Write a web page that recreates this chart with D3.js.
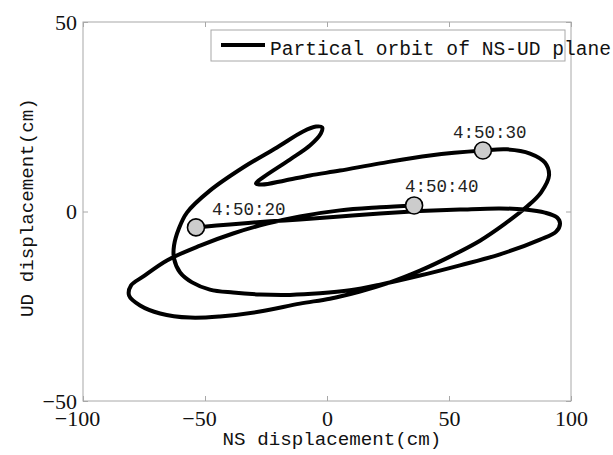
<!DOCTYPE html>
<html>
<head>
<meta charset="utf-8">
<script src="https://cdn.jsdelivr.net/npm/d3@7"></script>
<style>
  body { margin: 0; background: #fff; }
  svg { display: block; }
</style>
</head>
<body>
<div id="chart"></div>
<script>
// Particle orbit, in time order (4:50:20 -> 4:50:40)
const nsDisp = [-53.7, -39.8, -23.4, -11.1, 5.3, 21.7, 38.1, 54.5, 70.9, 81.1,
  89.3, 94.3, 95.5, 93.9, 87.3, 70.9, 54.5, 38.1, 21.7, 9.4,
  -2.9, -15.2, -27.5, -38.5, -48.0, -55.3, -60.2, -62.7, -62.7, -60.7,
  -57.4, -48.0, -34.4, -20.5, -9.8, -4.5, -2.0, -2.5, -7.0, -15.2,
  -26.2, -29.1, -26.6, -17.2, -7.0, 5.3, 21.7, 42.2, 63.9, 73.8,
  83.2, 89.3, 91.0, 87.7, 81.6, 73.0, 62.7, 50.4, 38.1, 25.8,
  13.5, 1.2, -11.1, -27.5, -43.9, -56.1, -68.4, -76.6, -81.1, -80.3,
  -75.4, -65.6, -52.0, -38.5, -24.6, -11.1, 5.3, 21.7, 35.7];
const udDisp = [-4.2, -3.4, -2.6, -2.1, -1.3, -0.5, 0.1, 0.5, 0.8, 0.5,
  -0.3, -1.6, -3.2, -5.3, -7.4, -11.3, -14.2, -16.9, -19.3, -20.8,
  -21.6, -22.0, -21.9, -21.4, -20.6, -18.7, -16.1, -12.4, -9.0, -4.5,
  -0.3, 5.5, 11.6, 16.9, 21.1, 22.4, 22.2, 20.6, 17.4, 13.7,
  9.0, 7.4, 7.1, 8.2, 9.5, 10.8, 12.7, 14.8, 16.1, 16.4,
  15.3, 12.9, 9.5, 5.0, 1.1, -3.2, -7.7, -11.9, -15.6, -18.7,
  -21.1, -23.0, -24.3, -26.4, -27.7, -28.0, -26.9, -24.8, -22.2, -19.5,
  -17.2, -12.9, -9.0, -5.8, -3.2, -1.3, 0.3, 1.1, 1.6];

const markerTimes = ["4:50:20", "4:50:30", "4:50:40"];
const markerNS = [-53.7, 63.9, 35.7];
const markerUD = [-4.2, 16.1, 1.6];

const xTicks = [-100, -50, 0, 50, 100];
const yTicks = [-50, 0, 50];
const legendLabel = "Partical orbit of NS-UD plane";
const xLabel = "NS displacement(cm)";
const yLabel = "UD displacement(cm)";

const margin = { top: 22, right: 42, bottom: 54, left: 83 };
const width = 613 - margin.left - margin.right;
const height = 455 - margin.top - margin.bottom;

const monoFont = "'Liberation Mono', 'DejaVu Sans Mono', monospace";
const serifFont = "'Liberation Serif', 'DejaVu Serif', serif";
const axisGray = "#a8a8a8";

const svg = d3.select("#chart")
    .append("svg")
    .attr("width", 613)
    .attr("height", 455)
    .append("g")
    .attr("transform", `translate(${margin.left},${margin.top})`);

const xScale = d3.scaleLinear().domain([-100, 100]).range([0, width]);
const yScale = d3.scaleLinear().domain([-50, 50]).range([height, 0]);

// box around the plot
svg.append("rect")
    .attr("width", width)
    .attr("height", height)
    .attr("fill", "none")
    .attr("stroke", axisGray)
    .attr("stroke-width", 1);

function styleAxis(g) {
    g.select(".domain").remove();
    g.selectAll(".tick line").attr("stroke", axisGray);
    g.selectAll(".tick text")
        .attr("fill", "#111")
        .style("font-family", serifFont)
        .style("font-size", "22px");
}

// bottom and left axes with labels, top and right only ticks
svg.append("g")
    .attr("transform", `translate(0,${height})`)
    .call(d3.axisBottom(xScale).tickValues(xTicks).tickSizeInner(-5).tickSizeOuter(0).tickPadding(9))
    .call(styleAxis)
    .selectAll(".tick text")
    .attr("dx", (d) => (d < 0 ? -6 : 0));

svg.append("g")
    .call(d3.axisLeft(yScale).tickValues(yTicks).tickSizeInner(-5).tickSizeOuter(0).tickPadding(6))
    .call(styleAxis);

svg.append("g")
    .call(d3.axisTop(xScale).tickValues(xTicks).tickSizeInner(-5).tickSizeOuter(0).tickFormat(""))
    .call(styleAxis);

svg.append("g")
    .attr("transform", `translate(${width},0)`)
    .call(d3.axisRight(yScale).tickValues(yTicks).tickSizeInner(-5).tickSizeOuter(0).tickFormat(""))
    .call(styleAxis);

// the orbit
const orbit = nsDisp.map((d, i) => ({ ns: d, ud: udDisp[i] }));
const line = d3.line()
    .x((d) => xScale(d.ns))
    .y((d) => yScale(d.ud))
    .curve(d3.curveCatmullRom.alpha(0.5));

svg.append("path")
    .datum(orbit)
    .attr("d", line)
    .attr("fill", "none")
    .attr("stroke", "#000")
    .attr("stroke-width", 4)
    .attr("stroke-linejoin", "round")
    .attr("stroke-linecap", "round");

// time markers
const markers = markerTimes.map((t, i) => ({ t: t, ns: markerNS[i], ud: markerUD[i] }));
const labelShift = [[16, -12], [-30, -12], [-9, -13]];

svg.selectAll(".marker")
    .data(markers)
    .enter().append("circle")
    .attr("class", "marker")
    .attr("cx", (d) => xScale(d.ns))
    .attr("cy", (d) => yScale(d.ud))
    .attr("r", 8.5)
    .attr("fill", "#cccccc")
    .attr("stroke", "#000")
    .attr("stroke-width", 1.6);

svg.selectAll(".time-label")
    .data(markers)
    .enter().append("text")
    .attr("class", "time-label")
    .attr("x", (d, i) => xScale(d.ns) + labelShift[i][0])
    .attr("y", (d, i) => yScale(d.ud) + labelShift[i][1])
    .style("font-family", monoFont)
    .style("font-size", "17.5px")
    .attr("fill", "#222")
    .text((d) => d.t);

// legend
const legend = svg.append("g").attr("transform", "translate(128,8)");
legend.append("rect")
    .attr("width", 354)
    .attr("height", 31)
    .attr("fill", "#fff")
    .attr("stroke", axisGray)
    .attr("stroke-width", 1);
legend.append("line")
    .attr("x1", 10).attr("x2", 54)
    .attr("y1", 15).attr("y2", 15)
    .attr("stroke", "#000")
    .attr("stroke-width", 4);
legend.append("text")
    .attr("x", 59)
    .attr("y", 25)
    .style("font-family", monoFont)
    .style("font-size", "19.6px")
    .attr("fill", "#111")
    .text(legendLabel);

// axis titles
svg.append("text")
    .attr("x", width / 2 + 5)
    .attr("y", height + 44)
    .attr("text-anchor", "middle")
    .style("font-family", monoFont)
    .style("font-size", "19.2px")
    .attr("fill", "#111")
    .text(xLabel);

svg.append("text")
    .attr("transform", `translate(${-50},${height / 2 - 4}) rotate(-90)`)
    .attr("text-anchor", "middle")
    .style("font-family", monoFont)
    .style("font-size", "19.2px")
    .attr("fill", "#111")
    .text(yLabel);
</script>
</body>
</html>
